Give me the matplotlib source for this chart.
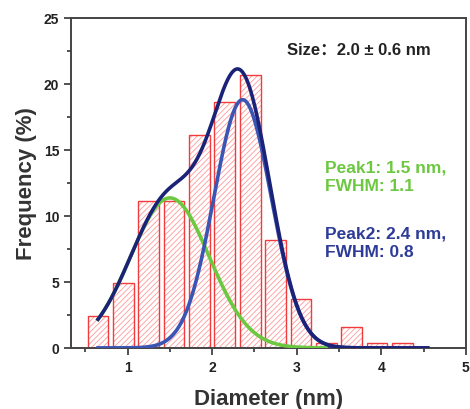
import numpy as np
import matplotlib
matplotlib.use('Agg')
import matplotlib.pyplot as plt

plt.rcParams['font.family'] = ['Liberation Sans', 'DejaVu Sans']
plt.rcParams['font.weight'] = 'bold'
plt.rcParams['hatch.linewidth'] = 0.6

# histogram bins (nm) and frequencies (%)
bin_centers = [0.65, 0.95, 1.25, 1.55, 1.85, 2.15, 2.45, 2.75, 3.05, 3.35, 3.65, 3.95, 4.25]
frequency = [2.45, 4.95, 11.1, 11.1, 16.1, 18.6, 20.7, 8.2, 3.7, 0.38, 1.6, 0.38, 0.38]

# gaussian peak fits: center, FWHM, amplitude
peak_centers = [1.5, 2.36]
peak_fwhm = [1.1, 0.8]
peak_amps = [11.36, 18.8]
fit_range = [0.65, 4.55]

red = '#f03c3c'
green = '#6cc840'
blue = '#3a55b4'
navy = '#1b2378'

fig = plt.figure(figsize=(4.7, 4.1), dpi=100)
ax = fig.add_axes([0.151, 0.149, 0.840, 0.805])

ax.bar(bin_centers, frequency, width=0.245, color='white', edgecolor='#ff9a9a',
       hatch='//////', linewidth=0)
ax.bar(bin_centers, frequency, width=0.245, fill=False, edgecolor=red, linewidth=1.0)

x = np.linspace(fit_range[0], fit_range[1], 400)
peaks = []
for c, w, a in zip(peak_centers, peak_fwhm, peak_amps):
    s = w / 2.3548
    peaks.append(a * np.exp(-(x - c) ** 2 / (2 * s ** 2)))

ax.plot(x[x < 3.35], peaks[0][x < 3.35], color=green, lw=2.6, zorder=3)
ax.plot(x, peaks[1], color=blue, lw=2.6, zorder=4)
ax.plot(x, peaks[0] + peaks[1], color=navy, lw=2.6, zorder=5)

ax.set_xlim(0.33, 5)
ax.set_ylim(0, 25)
ax.set_xticks([1, 2, 3, 4, 5])
ax.set_yticks([0, 5, 10, 15, 20, 25])
ax.set_xticks(np.arange(0.5, 5, 1), minor=True)
ax.set_yticks(np.arange(2.5, 25, 5), minor=True)
ax.tick_params(which='major', direction='out', length=5, width=1.2, labelsize=10,
               colors='#333333', labelcolor='#222222')
ax.tick_params(which='minor', direction='out', length=3, width=1.2, colors='#333333')
for sp in ax.spines.values():
    sp.set_linewidth(1.4)
    sp.set_color('#444444')

ax.set_xlabel('Diameter (nm)', fontsize=16, fontweight='bold', color='#333333', labelpad=10)
ax.set_ylabel('Frequency (%)', fontsize=16, fontweight='bold', color='#333333', labelpad=5)

ax.text(3.73, 22.65, 'Size\uff1a2.0 \u00b1 0.6 nm', fontsize=12, fontweight='bold',
        color='#222222', ha='center', va='center',
        family=['Liberation Sans', 'Noto Sans CJK SC'])
ax.text(3.34, 13.0, 'Peak1: 1.5 nm,\nFWHM: 1.1', fontsize=12.5, fontweight='bold',
        color=green, ha='left', va='center', linespacing=1.35)
ax.text(3.34, 8.0, 'Peak2: 2.4 nm,\nFWHM: 0.8', fontsize=12.5, fontweight='bold',
        color='#2e3c98', ha='left', va='center', linespacing=1.35)

fig.savefig('out.png', dpi=100)
